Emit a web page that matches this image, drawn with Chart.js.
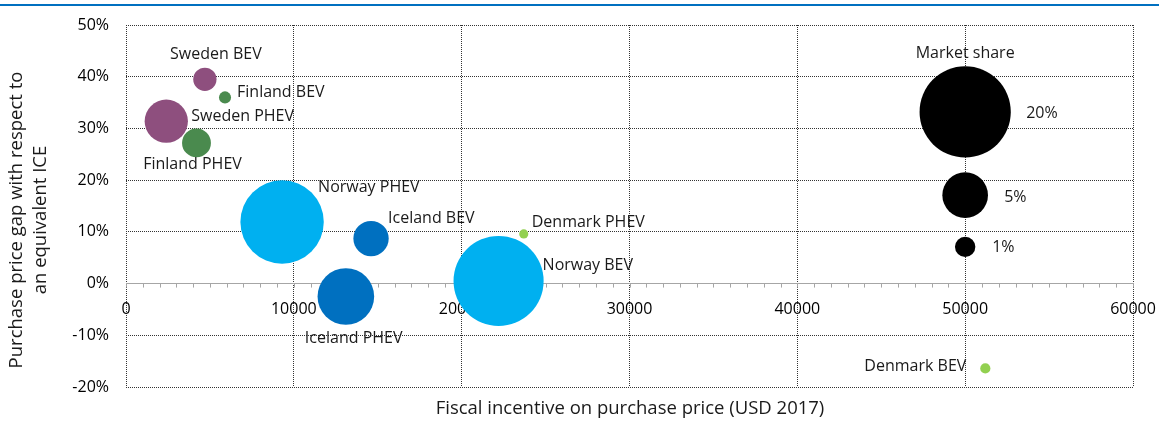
<!DOCTYPE html>
<html>
<head>
<meta charset="utf-8">
<script src="https://cdn.jsdelivr.net/npm/chart.js@4.4.0/dist/chart.umd.min.js"></script>
<style>
    html, body { margin: 0; padding: 0; background: #fff; }
    #wrap { position: relative; width: 1159px; height: 423px; }
</style>
</head>
<body>
<div id="wrap"><canvas id="bolhas"></canvas></div>
<script>
// fiscal incentive (USD 2017), price gap (%), market share (%)
const nomes = ['Sweden BEV', 'Finland BEV', 'Sweden PHEV', 'Finland PHEV', 'Norway PHEV',
    'Iceland BEV', 'Iceland PHEV', 'Denmark PHEV', 'Norway BEV', 'Denmark BEV'];
const incentivo = [4700, 5900, 2400, 4200, 9300, 14600, 13100, 23700, 22200, 51200];
const diferenca = [39.5, 36, 31.4, 27.2, 11.9, 8.7, -2.5, 9.6, 0.5, -16.4];
const participacao = [1.3, 0.35, 4.5, 2, 16.7, 3, 7.7, 0.2, 19.5, 0.25];

// size legend
const legendaNomes = ['20%', '5%', '1%'];
const legendaX = [50000, 50000, 50000];
const legendaY = [33.2, 17.1, 7.1];
const legendaShare = [20, 5, 1];

const xTicks = [0, 10000, 20000, 30000, 40000, 50000, 60000];
const yTicks = [-20, -10, 0, 10, 20, 30, 40, 50];

const cores = ['#8E4F7E', '#4A8A4E', '#8E4F7E', '#4A8A4E', '#00B0F0',
    '#0070C0', '#0070C0', '#92D050', '#00B0F0', '#92D050'];

// label offsets from bubble centre (px)
const rotulos = [
    [11, -25, 'center'], [12, -5, 'left'], [25, -5, 'left'], [-4, 22, 'center'], [36, -35, 'left'],
    [17, -20, 'left'], [-41, 42, 'left'], [8, -11, 'left'], [44, -16, 'left'], [-19, -2, 'right']
];
const rotulosLegenda = [[61, 2, 'left'], [39, 2, 'left'], [27, 1, 'left']];

const K = 10.2;
const raio = share => K * Math.sqrt(share);
const fonte = '"Open Sans", sans-serif';

const ctx = document.getElementById('bolhas');

new Chart(ctx, {
    type: 'bubble',
    data: {
        datasets: [{
            data: incentivo.map((x, i) => ({ x: x, y: diferenca[i], s: participacao[i] })),
            backgroundColor: cores,
            borderWidth: 0,
            radius: c => raio(c.raw.s)
        }, {
            data: legendaX.map((x, i) => ({ x: x, y: legendaY[i], s: legendaShare[i] })),
            backgroundColor: '#000000',
            borderWidth: 0,
            radius: c => raio(c.raw.s)
        }]
    },
    options: {
        responsive: true,
        maintainAspectRatio: false,
        animation: false,
        events: [],
        layout: { autoPadding: false, padding: { top: 25, right: 26, bottom: 36, left: 0 } },
        plugins: {
            legend: { display: false },
            tooltip: { enabled: false }
        },
        scales: {
            x: {
                type: 'linear',
                position: { y: 0 },
                min: 0,
                max: 60000,
                afterBuildTicks: s => { s.ticks = xTicks.map(v => ({ value: v })); },
                afterFit: s => { s.paddingLeft = 0; s.paddingRight = 0; },
                ticks: {
                    color: '#000',
                    font: { family: fonte, size: 16 },
                    padding: 16,
                    maxRotation: 0,
                    callback: v => String(v)
                },
                grid: { color: '#333333', drawTicks: false },
                border: { display: true, color: '#A6A6A6', width: 1, dash: [1, 1] }
            },
            y: {
                min: -20,
                max: 50,
                afterBuildTicks: s => { s.ticks = yTicks.map(v => ({ value: v })); },
                afterFit: s => { s.width = 126; s.paddingTop = 0; s.paddingBottom = 0; },
                ticks: {
                    color: '#000',
                    font: { family: fonte, size: 16 },
                    padding: 17,
                    callback: v => v + '%'
                },
                grid: {
                    color: c => c.tick && c.tick.value === 0 ? 'rgba(0,0,0,0)' : '#333333',
                    drawTicks: false
                },
                border: { display: false, dash: [1, 1] }
            }
        }
    },
    plugins: [{
        id: 'extras',
        beforeDatasetsDraw(chart) {
            const { ctx, scales } = chart;
            const y0 = scales.y.getPixelForValue(0);
            ctx.save();
            ctx.strokeStyle = '#A6A6A6';
            ctx.lineWidth = 1;
            for (let v = 0; v <= 60000; v += 1000) {
                const x = Math.round(scales.x.getPixelForValue(v)) + 0.5;
                ctx.beginPath();
                ctx.moveTo(x, y0);
                ctx.lineTo(x, y0 + 4);
                ctx.stroke();
            }
            ctx.restore();
        },
        afterDraw(chart) {
            const { ctx } = chart;
            ctx.save();

            // blue rule on top
            ctx.fillStyle = '#0070C0';
            ctx.fillRect(0, 4, chart.width, 2);

            ctx.fillStyle = '#1a1a1a';
            ctx.font = '16px ' + fonte;
            ctx.textBaseline = 'middle';
            const m0 = chart.getDatasetMeta(0).data;
            m0.forEach((p, i) => {
                const [dx, dy, al] = rotulos[i];
                ctx.textAlign = al;
                ctx.fillText(nomes[i], p.x + dx, p.y + dy);
            });
            const m1 = chart.getDatasetMeta(1).data;
            m1.forEach((p, i) => {
                const [dx, dy, al] = rotulosLegenda[i];
                ctx.textAlign = al;
                ctx.fillText(legendaNomes[i], p.x + dx, p.y + dy);
            });
            ctx.textAlign = 'center';
            ctx.fillText('Market share', m1[0].x, m1[0].y - 58);

            // axis titles
            ctx.font = '18.5px ' + fonte;
            ctx.fillText('Fiscal incentive on purchase price (USD 2017)', 630, 409);
            ctx.translate(0, 220);
            ctx.rotate(-Math.PI / 2);
            ctx.fillText('Purchase price gap with respect to', 0, 17);
            ctx.fillText('an equivalent ICE', 0, 41);
            ctx.restore();
        }
    }]
});
</script>
</body>
</html>
